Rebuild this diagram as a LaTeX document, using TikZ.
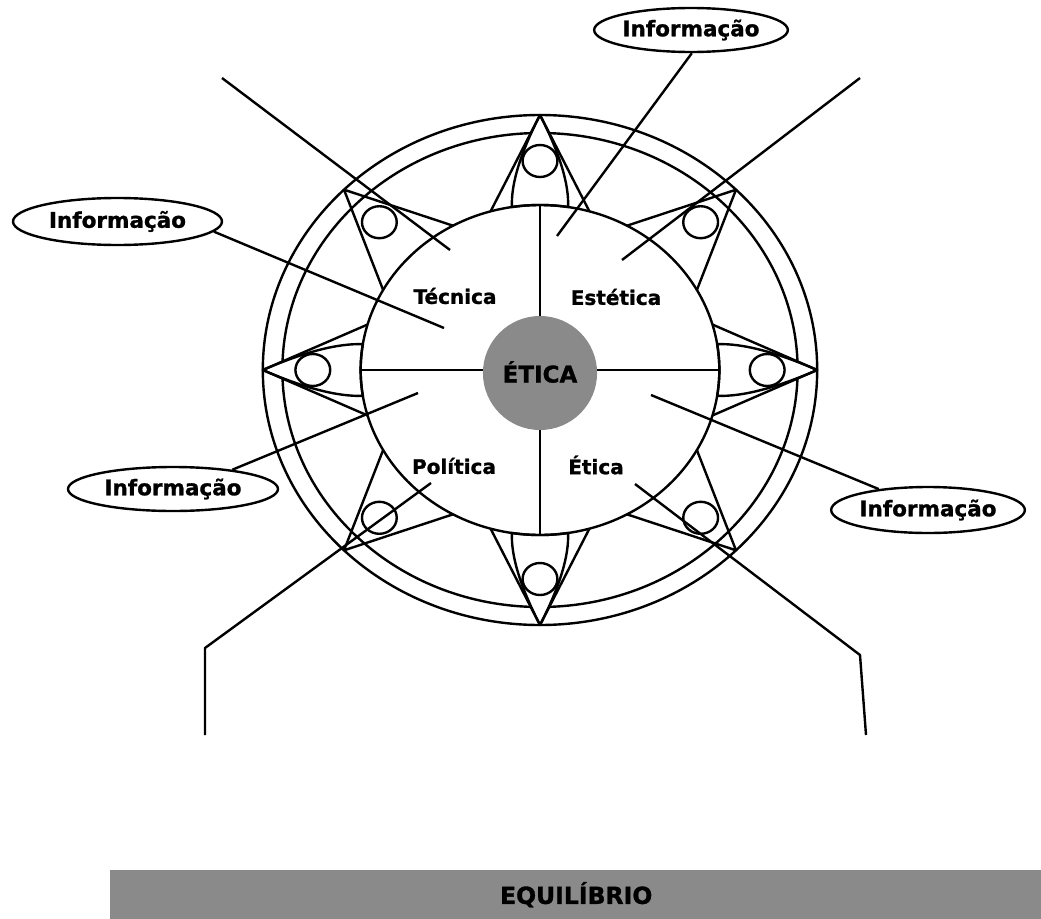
\documentclass[tikz,border=0pt]{standalone}
\usepackage{fontspec}
\setmainfont{DejaVu Sans}[BoldFeatures={FakeBold=1.2}]
\usetikzlibrary{calc,shapes.geometric}
\definecolor{midgray}{RGB}{138,138,138}
\begin{document}
\begin{tikzpicture}[x=1pt,y=-1pt,line width=2.4pt,line join=round,
  lbl/.style={font=\fontsize{20}{20}\selectfont\bfseries,inner sep=0pt},
  info/.style={draw,ellipse,inner sep=0pt,font=\fontsize{21.5}{21.5}\selectfont\bfseries},
  conn/.style={line width=2.4pt}]
\useasboundingbox (0,0) rectangle (1041,918);
\fill[white] (0,0) rectangle (1041,918);
% ---------------- wheel ----------------
\begin{scope}[shift={(540,370)},x=1.087pt,y=1pt]
  \draw (0,0) circle[radius=255];
  \draw (0,0) circle[radius=237];
  % arches (white filled, hide ring 2)
  \foreach \a in {0,90,180,270}{
    \coordinate (T) at (\a:255);
    \coordinate (Ap) at (\a+16:165);
    \coordinate (Am) at (\a-16:165);
    \coordinate (Bp) at (\a+9:165);
    \coordinate (Bm) at (\a-9:165);
    \coordinate (Cp) at ($(T)!0.6!(Ap)$);
    \coordinate (Cm) at ($(T)!0.6!(Am)$);
    \draw[fill=white] (T) .. controls ($(T)!0.4!(Ap)$) and ($(Bp)!0.6667!(Cp)$) .. (Bp)
      arc[start angle=\a+9,end angle=\a-9,radius=165]
      .. controls ($(Bm)!0.6667!(Cm)$) and ($(T)!0.4!(Am)$) .. (T) -- cycle;
  }
  \draw (0,0) circle[radius=165];
  % triangles
  \foreach \a in {0,45,...,315}{
    \draw ($(\a-16:165)$) -- (\a:255) -- ($(\a+16:165)$);
    \draw (\a:209) circle[radius=16];
  }
  % quadrant lines
  \draw (0:165) -- (180:165);
  \draw (90:165) -- (270:165);
  \fill[midgray] (0,-3) ellipse[x radius=52.5,y radius=57];
\end{scope}
\node[font=\fontsize{23}{23}\selectfont\bfseries,inner sep=0pt] (etica) at (540,372) {ÉTICA};
\node[lbl] (tec) at (455,296) {Técnica};
\node[lbl] (est) at (616,297) {Estética};
\node[lbl] (pol) at (454,466) {Política};
\node[lbl] (eti) at (596,465) {Ética};
% ---------------- information ellipses ----------------
\node[info,minimum width=160pt,minimum height=44pt] (iT) at (691,30) {Informação};
\node[info,minimum width=209pt,minimum height=47pt] (iL) at (117.5,221.5) {Informação};
\node[info,minimum width=210pt,minimum height=44pt] (iB) at (173,489) {Informação};
\node[info,minimum width=186pt,minimum height=46pt] (iR) at (928,510) {Informação};
% ---------------- connectors ----------------
\coordinate (s1) at (222,78);  \coordinate (e1) at (450,250);
\coordinate (s2) at (860,78);  \coordinate (e2) at (622,260);
\coordinate (e3) at (557,236);
\coordinate (e4) at (444,328);
\coordinate (e5) at (651,395);
\coordinate (e6) at (418,393);
\coordinate (e7) at (431,483); \coordinate (k7) at (205,648); \coordinate (f7) at (205,735);
\coordinate (e8) at (635,484); \coordinate (k8) at (860,655); \coordinate (f8) at (866,735);
\draw[conn] (s1) -- (e1);
\draw[conn] (s2) -- (e2);
\draw[conn] (iT.-88) -- (e3);
\draw[conn] (iL.-6) -- (e4);
\draw[conn] (e5) -- (iR.157);
\draw[conn] (e6) -- (iB.18);
\draw[conn] (e7) -- (k7) -- (f7);
\draw[conn] (e8) -- (k8) -- (f8);
% ---------------- bar ----------------
\node[fill=midgray,minimum width=932pt,minimum height=49pt,inner sep=0pt,anchor=north west,
  font=\fontsize{23.5}{23.5}\selectfont\bfseries] (bar) at (109,869) {EQUILÍBRIO};
\end{tikzpicture}
\end{document}
